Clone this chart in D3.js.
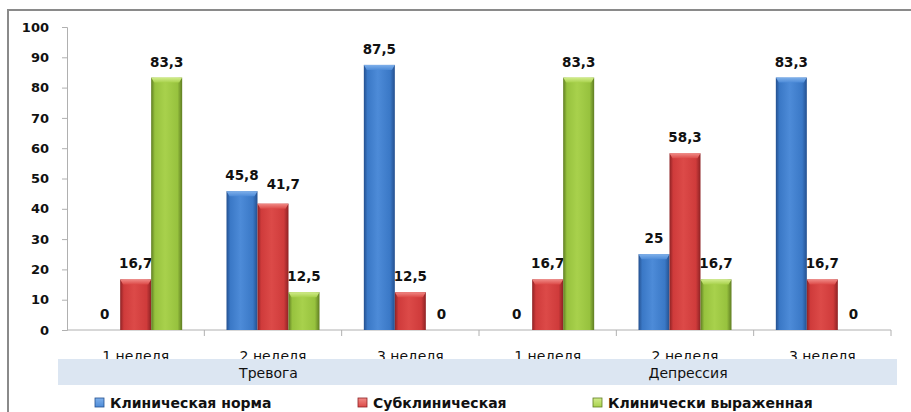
<!DOCTYPE html>
<html>
<head>
<meta charset="utf-8">
<script src="https://cdn.jsdelivr.net/npm/d3@7"></script>
<style>
  html, body { margin: 0; padding: 0; background: #fff; }
  svg { display: block; font-family: "DejaVu Sans", Verdana, sans-serif; }
</style>
</head>
<body>
<svg id="chart" width="911" height="412"></svg>
<script>
// Chart data
const weeks = ["1 неделя", "2 неделя", "3 неделя", "1 неделя", "2 неделя", "3 неделя"];
const groups = ["Тревога", "Депрессия"];
const seriesNames = ["Клиническая норма", "Субклиническая", "Клинически выраженная"];
const normValues = [0, 45.8, 87.5, 0, 25, 83.3];
const subValues = [16.7, 41.7, 12.5, 16.7, 58.3, 16.7];
const clinValues = [83.3, 12.5, 0, 83.3, 16.7, 0];
const yTicks = [0, 10, 20, 30, 40, 50, 60, 70, 80, 90, 100];

const seriesValues = [normValues, subValues, clinValues];
const palette = [
  { dark: "#24508f", mid: "#3a78c6", light: "#4d8bd8", top: "#7fb0ea" },
  { dark: "#8e2224", mid: "#cf3b3b", light: "#dc4a48", top: "#f08a86" },
  { dark: "#5f7d22", mid: "#97c23e", light: "#a8d14c", top: "#d2ec8c" }
];

const svg = d3.select("#chart");
const defs = svg.append("defs");
palette.forEach((c, i) => {
  const g = defs.append("linearGradient").attr("id", "bar" + i)
    .attr("x1", "0").attr("x2", "1").attr("y1", "0").attr("y2", "0");
  g.append("stop").attr("offset", "0").attr("stop-color", c.dark);
  g.append("stop").attr("offset", "0.12").attr("stop-color", c.mid);
  g.append("stop").attr("offset", "0.45").attr("stop-color", c.light);
  g.append("stop").attr("offset", "0.85").attr("stop-color", c.mid);
  g.append("stop").attr("offset", "1").attr("stop-color", c.dark);
  const t = defs.append("linearGradient").attr("id", "cap" + i)
    .attr("x1", "0").attr("x2", "0").attr("y1", "0").attr("y2", "1");
  t.append("stop").attr("offset", "0").attr("stop-color", c.top);
  t.append("stop").attr("offset", "1").attr("stop-color", c.light);
});

// Outer frame (left and top edges)
svg.append("path").attr("d", "M8,412V10H911")
  .attr("fill", "none").attr("stroke", "#8a8a8a").attr("stroke-width", 2);

const plot = { left: 67, right: 891, top: 27, bottom: 330 };

const x = d3.scaleBand().domain(d3.range(weeks.length))
  .range([plot.left, plot.right]).padding(0);
const xs = d3.scaleBand().domain(d3.range(seriesNames.length))
  .range([0, x.bandwidth()]).paddingInner(0).paddingOuter(0.715);
const y = d3.scaleLinear().domain([0, 100]).range([plot.bottom, plot.top]);

// Y axis
const yAxis = svg.append("g").attr("transform", `translate(${plot.left},0)`)
  .call(d3.axisLeft(y).tickValues(yTicks).tickSize(5).tickPadding(13).tickFormat(d3.format("d")));
yAxis.select(".domain").attr("stroke", "#b0b0b0");
yAxis.selectAll(".tick line").attr("stroke", "#b0b0b0");
yAxis.selectAll(".tick text").attr("font-size", 13).attr("font-weight", "bold")
  .attr("fill", "#111").attr("font-family", "DejaVu Sans, Verdana, sans-serif");

// Category axis line with boundary ticks
const xAxis = svg.append("g").attr("transform", `translate(0,${plot.bottom})`);
xAxis.append("line").attr("x1", plot.left).attr("x2", plot.right)
  .attr("stroke", "#b0b0b0");
xAxis.selectAll("line.tk").data(d3.range(1, weeks.length + 1)).join("line")
  .attr("class", "tk")
  .attr("x1", d => x(d - 1) + x.bandwidth()).attr("x2", d => x(d - 1) + x.bandwidth())
  .attr("y1", 0).attr("y2", 6).attr("stroke", "#b0b0b0");

// Week labels
svg.selectAll("text.week").data(weeks).join("text")
  .attr("class", "week")
  .attr("x", (d, i) => x(i) + x.bandwidth() / 2)
  .attr("y", 361)
  .attr("text-anchor", "middle")
  .attr("font-size", 14)
  .attr("fill", "#111")
  .text(d => d);

// Group band (covers the lower part of the week labels)
svg.append("rect").attr("x", 58).attr("y", 359).attr("width", 839).attr("height", 26)
  .attr("fill", "#dce6f2");
const half = weeks.length / 2;
svg.selectAll("text.group").data(groups).join("text")
  .attr("class", "group")
  .attr("x", (d, i) => i === 0 ? (58 + x(half)) / 2 : (x(half) + 897) / 2)
  .attr("y", 378)
  .attr("text-anchor", "middle")
  .attr("font-size", 14)
  .attr("fill", "#111")
  .text(d => d);

// Bars
const labelBoxes = weeks.map(() => []);
seriesValues.forEach((vals, s) => {
  const g = svg.append("g");
  vals.forEach((v, i) => {
    const bx = x(i) + xs(s);
    const by = y(v);
    const h = y(0) - by;
    if (h > 0) {
      g.append("rect").attr("x", bx).attr("y", by).attr("width", xs.bandwidth()).attr("height", h)
        .attr("fill", `url(#bar${s})`);
      const capH = Math.min(5, h);
      g.append("path")
        .attr("d", `M${bx},${by}H${bx + xs.bandwidth()}L${bx + xs.bandwidth() - 3},${by + capH}H${bx + 3}Z`)
        .attr("fill", `url(#cap${s})`);
    }
    const t = g.append("text")
      .attr("x", bx + xs.bandwidth() / 2)
      .attr("y", by - 11)
      .attr("text-anchor", "middle")
      .attr("font-size", 13.5)
      .attr("font-weight", "bold")
      .attr("fill", "#111")
      .text(String(v).replace(".", ","));
    // nudge a value label right/up when it collides with its neighbour's label
    let b = t.node().getBBox();
    const prev = labelBoxes[i][labelBoxes[i].length - 1];
    if (prev && b.x < prev.x + prev.width + 4 && Math.abs(b.y - prev.y) < b.height) {
      const dx = prev.x + prev.width + 8 - b.x;
      t.attr("x", +t.attr("x") + dx).attr("y", +t.attr("y") - 4);
      b = t.node().getBBox();
    }
    labelBoxes[i].push(b);
  });
});

// Legend
const legendX = [95, 358, 593];
const legend = svg.selectAll("g.leg").data(seriesNames).join("g")
  .attr("class", "leg")
  .attr("transform", (d, i) => `translate(${legendX[i]},398)`);
legend.append("rect").attr("width", 9).attr("height", 9)
  .attr("fill", (d, i) => `url(#cap${i})`)
  .attr("stroke", (d, i) => palette[i].dark).attr("stroke-width", 0.8);
legend.append("text").attr("x", 15).attr("y", 10)
  .attr("font-size", 14).attr("font-weight", "bold").attr("fill", "#111")
  .text(d => d);
</script>
</body>
</html>
